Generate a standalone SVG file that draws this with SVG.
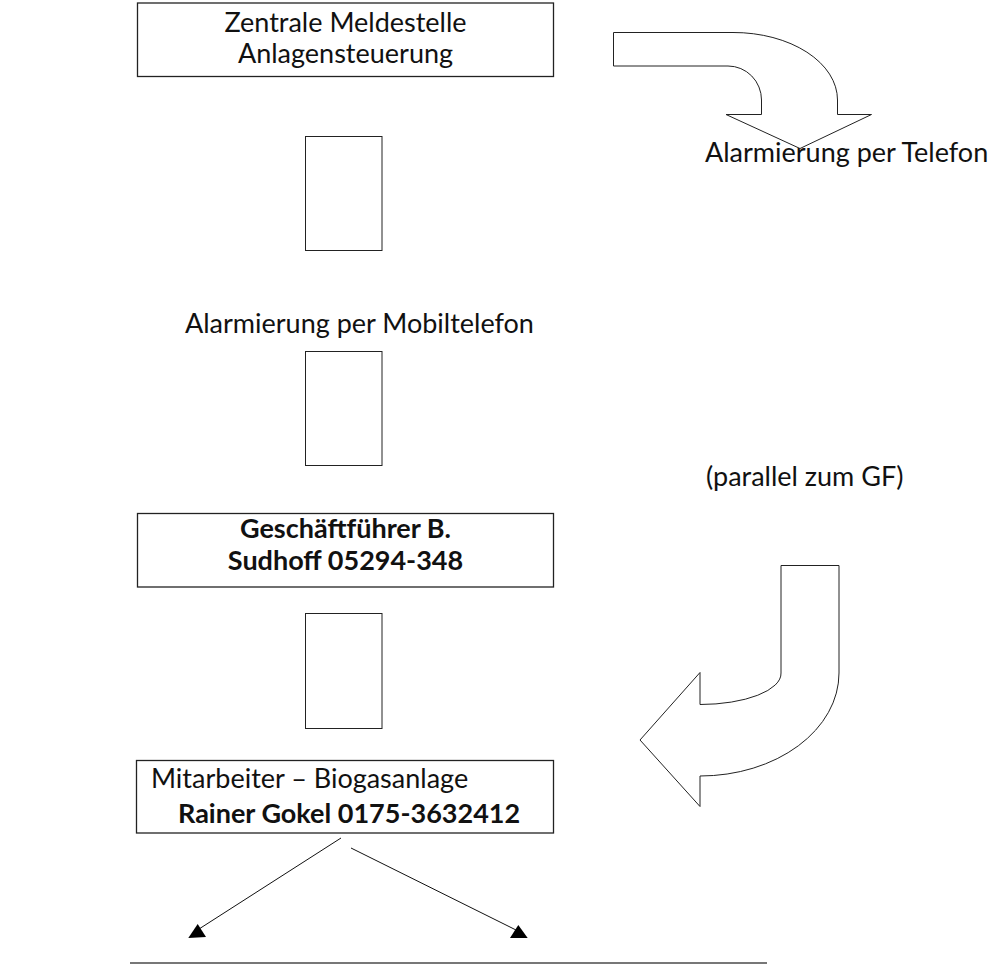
<svg xmlns="http://www.w3.org/2000/svg" width="991" height="965" viewBox="0 0 991 965">
<style>
.box{fill:#fff;stroke:#222;stroke-width:1.3}
.small{fill:#fff;stroke:#222;stroke-width:1}
.shape{fill:#fff;stroke:#222;stroke-width:1}
.t{font-family:Lato,"Liberation Sans",sans-serif;font-size:27px;fill:#111}
.b{font-weight:bold}
.c{text-anchor:middle}
.ln{stroke:#111;stroke-width:1;fill:none}
.ah{fill:#000}
</style>
<rect width="991" height="965" fill="#fff"/>
<g id="zentrale">
<rect class="box" x="137.5" y="3" width="416" height="73.5"/>
<text class="t c" x="345.5" y="31.5">Zentrale Meldestelle</text>
<text class="t c" x="345.5" y="62.5">Anlagensteuerung</text>
</g>
<g id="phone1"><rect class="small" x="305.5" y="136.5" width="76.5" height="114"/></g>
<g id="label-mobil"><text class="t" x="185" y="333">Alarmierung per Mobiltelefon</text></g>
<g id="phone2"><rect class="small" x="305.5" y="351.5" width="76.5" height="114"/></g>
<g id="label-parallel"><text class="t" x="706" y="486">(parallel zum GF)</text></g>
<g id="gf">
<rect class="box" x="137.5" y="513.5" width="416" height="73.5"/>
<text class="t b c" x="345.5" y="538">Geschäftführer B.</text>
<text class="t b c" x="345.5" y="569.5">Sudhoff 05294-348</text>
</g>
<g id="phone3"><rect class="small" x="305.5" y="613.5" width="76.5" height="115"/></g>
<g id="mitarbeiter">
<rect class="box" x="136.5" y="760.5" width="417" height="72.5"/>
<text class="t" x="151" y="788">Mitarbeiter – Biogasanlage</text>
<text class="t b" x="178" y="823">Rainer Gokel 0175-3632412</text>
</g>
<g id="arrow-telefon">
<path class="shape" d="M613.5,32.5 H733 A104,67.5 0 0 1 837.5,100 V114.5 H871.5 L800,148.5 L726,114.5 H761.5 V100 A33.5,34 0 0 0 728,66 H613.5 Z"/>
<text class="t" x="705" y="162">Alarmierung per Telefon</text>
</g>
<g id="arrow-parallel">
<path class="shape" d="M781,565.5 H839 V673 A139,103 0 0 1 700,776 V806.5 L640,740 L700,672.5 V704.5 A81,31 0 0 0 781,673 Z"/>
</g>
<g id="connectors">
<line class="ln" x1="341" y1="838" x2="199" y2="929"/>
<polygon class="ah" points="197.7,924 188.3,938 206,937"/>
<line class="ln" x1="351" y1="848" x2="516" y2="930"/>
<polygon class="ah" points="518.3,925 510,938 527.7,938"/>
</g>
<line x1="130" y1="963" x2="767" y2="963" stroke="#777" stroke-width="2"/>
</svg>
